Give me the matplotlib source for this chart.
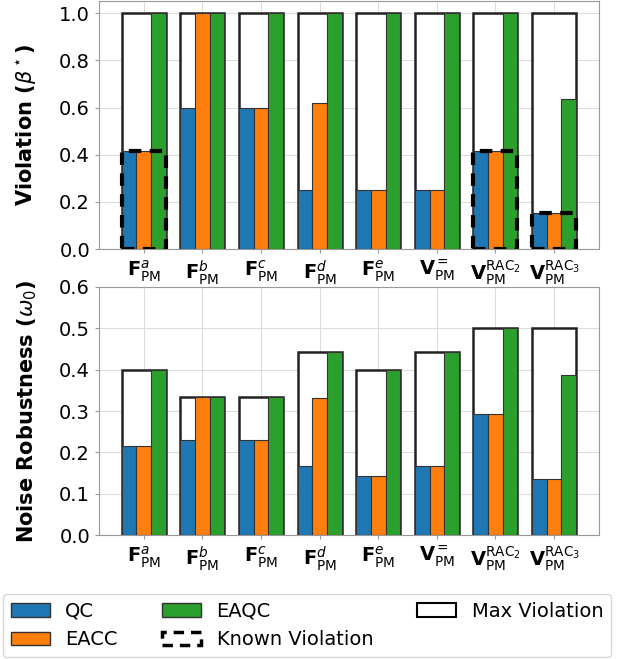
import matplotlib.pyplot as plt
import matplotlib.patches as mpatches
import numpy as np

# 场景标签
labels = [r"$\mathbf{F}^{a}_{\mathrm{PM}}$", r"$\mathbf{F}^{b}_{\mathrm{PM}}$",
          r"$\mathbf{F}^{c}_{\mathrm{PM}}$", r"$\mathbf{F}^{d}_{\mathrm{PM}}$",
          r"$\mathbf{F}^{e}_{\mathrm{PM}}$", r"$\mathbf{V}^{=}_{\mathrm{PM}}$",
          r"$\mathbf{V}^{\mathrm{RAC}_2}_{\mathrm{PM}}$", r"$\mathbf{V}^{\mathrm{RAC}_3}_{\mathrm{PM}}$"]

# 上图：违背值 beta*
viol_qc = [0.414, 0.6, 0.6, 0.25, 0.25, 0.25, 0.414, 0.155]
viol_eacc = [0.414, 1.0, 0.6, 0.618, 0.25, 0.25, 0.414, 0.155]
viol_eaqc = [1.0, 1.0, 1.0, 1.0, 1.0, 1.0, 1.0, 0.634]
viol_max = [1.0, 1.0, 1.0, 1.0, 1.0, 1.0, 1.0, 1.0]
viol_known = [0.414, None, None, None, None, None, 0.414, 0.155]

# 下图：噪声鲁棒性 omega_0
rob_qc = [0.216, 0.230, 0.230, 0.166, 0.142, 0.166, 0.292, 0.135]
rob_eacc = [0.216, 0.333, 0.230, 0.331, 0.142, 0.166, 0.292, 0.135]
rob_eaqc = [0.4, 0.333, 0.333, 0.444, 0.4, 0.444, 0.5, 0.388]
rob_max = [0.4, 0.333, 0.333, 0.444, 0.4, 0.444, 0.5, 0.5]

blue, orange, green = "#1f77b4", "#ff7f0e", "#2ca02c"
fs = 14

fig = plt.figure(figsize=(6.27, 6.59), dpi=100)
ax1 = fig.add_axes([0.158, 0.622, 0.797, 0.376])
ax2 = fig.add_axes([0.158, 0.188, 0.797, 0.3765])

x = np.arange(len(labels))
w = 0.25


def draw(ax, qc, eacc, eaqc, vmax, known, ylabel, ylim, ticks):
    ax.set_axisbelow(True)
    ax.grid(True, color="#dddddd", linewidth=0.8)
    ax.bar(x, vmax, 3 * w, color="white", edgecolor="#222222", linewidth=1.8, zorder=2)
    ax.bar(x - w, qc, w, color=blue, edgecolor="#333333", linewidth=0.8, zorder=3)
    ax.bar(x, eacc, w, color=orange, edgecolor="#333333", linewidth=0.8, zorder=3)
    ax.bar(x + w, eaqc, w, color=green, edgecolor="#333333", linewidth=0.8, zorder=3)
    if known is not None:
        for i, k in enumerate(known):
            if k is None:
                continue
            ax.bar(x[i], k, 3 * w, fill=False, edgecolor="black", linewidth=3,
                   linestyle=(0, (3, 2)), zorder=4)
    ax.set_ylim(*ylim)
    ax.set_yticks(ticks)
    ax.set_xticks(x)
    ax.set_xticklabels(labels, fontsize=fs)
    ax.tick_params(axis="y", labelsize=fs)
    ax.tick_params(colors="#999999", labelcolor="black", length=3)
    for s in ax.spines.values():
        s.set_color("#999999")
    ax.set_ylabel(ylabel, fontsize=15, fontweight="bold")
    ax.yaxis.set_label_coords(-0.12, 0.5)


draw(ax1, viol_qc, viol_eacc, viol_eaqc, viol_max, viol_known,
     r"Violation ($\beta^\star$)", (0, 1.05), np.arange(0, 1.01, 0.2))
draw(ax2, rob_qc, rob_eacc, rob_eaqc, rob_max, None,
     r"Noise Robustness ($\omega_0$)", (0, 0.6), np.arange(0, 0.61, 0.1))

handles = [
    mpatches.Patch(facecolor=blue, edgecolor="#333333", label="QC"),
    mpatches.Patch(facecolor=orange, edgecolor="#333333", label="EACC"),
    mpatches.Patch(facecolor=green, edgecolor="#333333", label="EAQC"),
    mpatches.Patch(fill=False, edgecolor="black", linewidth=2.5, linestyle=(0, (3, 2)),
                   label="Known Violation"),
    mpatches.Patch(facecolor="white", edgecolor="black", linewidth=1.5, label="Max Violation"),
]
fig.legend(handles=handles, ncol=3, fontsize=fs, loc="lower left", mode="expand",
           bbox_to_anchor=(0.005, 0.003, 0.97, 0.088), borderaxespad=0)

fig.savefig("out.png", dpi=100)
